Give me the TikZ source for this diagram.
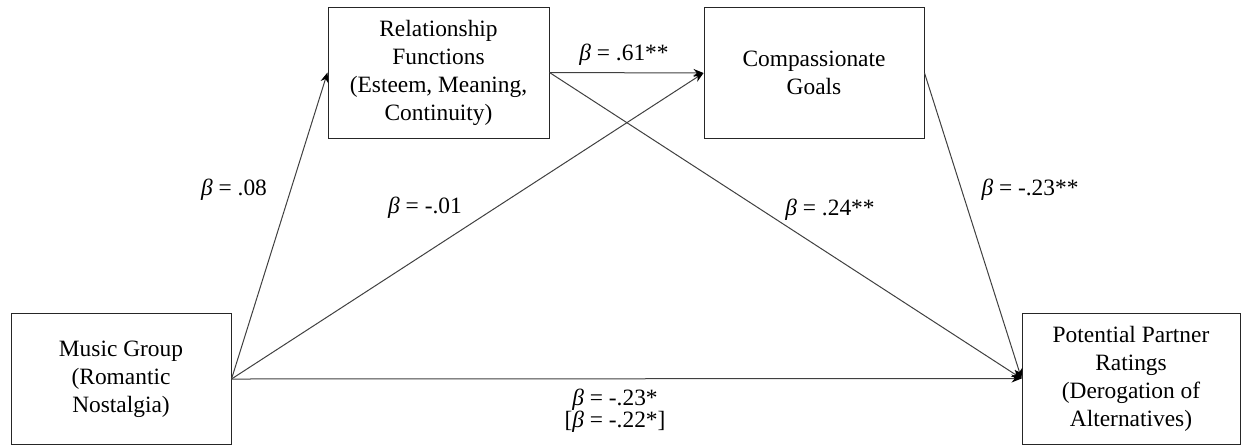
\documentclass[tikz,border=0pt]{standalone}
\usepackage{fontspec}
\setmainfont{Liberation Serif}
\usetikzlibrary{arrows.meta}
\newcommand{\bt}{\textit{β}}
\begin{document}
\begin{tikzpicture}[x=0.5pt,y=-0.5pt,>={Stealth[length=5pt,width=4pt,color=black]},
  box/.style={draw=black!85,line width=0.5pt,minimum width=110pt,minimum height=65.5pt,
    align=center,inner sep=2pt,font=\fontsize{11.7}{14}\selectfont},
  link/.style={->,line width=0.5pt,draw=black!75},
  lbl/.style={font=\fontsize{11.7}{11}\selectfont,align=center,inner sep=0pt}]
\useasboundingbox (0,0) rectangle (1241,446);
\node[box] (music) at (121,379) {Music Group\\(Romantic\\Nostalgia)};
\node[box,minimum width=110.5pt] (func) at (438.5,72.5) {Relationship\\Functions\\(Esteem, Meaning,\\Continuity)};
\node[box] (goals) at (814,73) {Compassionate\\Goals};
\node[box,minimum width=109pt] (rating) at (1131,378.5) {Potential Partner\\Ratings\\(Derogation of\\Alternatives)};
\draw[link] (music.east) -- (func.west);
\draw[link] (music.east) -- (goals.west);
\draw[link] (music.east) -- (rating.west);
\draw[link] (func.east) -- (goals.west);
\draw[link] (func.east) -- (rating.west);
\draw[link] (goals.east) -- (rating.west);
\node[lbl] (b1) at (234,190) {\bt{} = .08};
\node[lbl] (b2) at (425,208) {\bt{} = -.01};
\node[lbl] (b3) at (624,55) {\bt{} = .61**};
\node[lbl] (b4) at (830,210) {\bt{} = .24**};
\node[lbl] (b5) at (1030,190) {\bt{} = -.23**};
\node[lbl] (b6) at (615,411) {\bt{} = -.23*\\{}[\bt{} = -.22*]};
\end{tikzpicture}
\end{document}
